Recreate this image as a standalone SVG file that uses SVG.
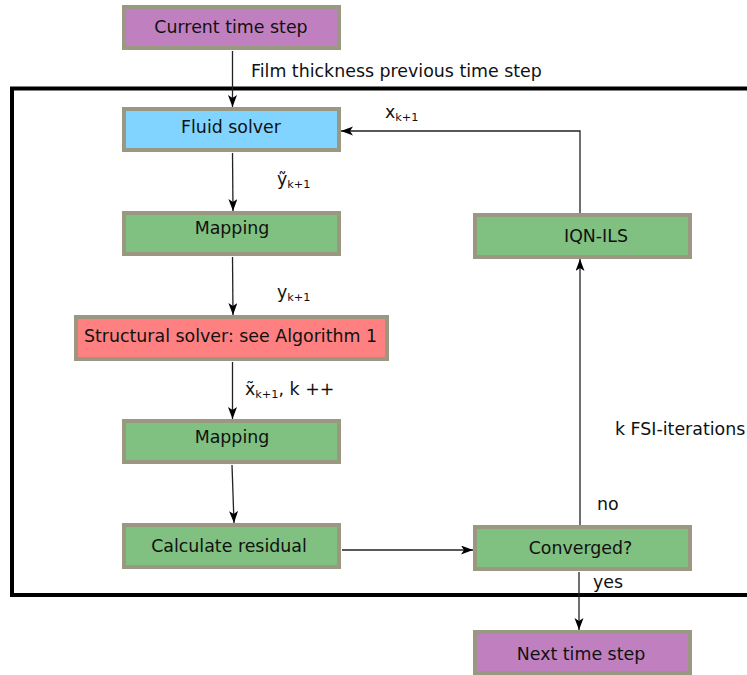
<svg xmlns="http://www.w3.org/2000/svg" width="747" height="675" viewBox="0 0 747 675">
  <style>
    text { font-family: "DejaVu Sans", Verdana, sans-serif; font-size: 17.4px; fill: #111; }
    .lbl { text-anchor: middle; }
    .sub { font-size: 11.3px; }
    .box { stroke: #9a9880; stroke-width: 4; }
    .purple { fill: #c080c0; }
    .blue { fill: #80d4ff; }
    .green { fill: #80c080; }
    .red { fill: #ff8080; }
    .edge { fill: none; stroke: #222; stroke-width: 1.3; }
  </style>
  <defs>
    <marker id="arrow" markerUnits="userSpaceOnUse" markerWidth="13" markerHeight="10" refX="12" refY="4.5" orient="auto">
      <path d="M0,0 L12,4.5 L0,9 L3,4.5 z" fill="#000"/>
    </marker>
  </defs>
  <rect width="747" height="675" fill="#fff"/>

  <!-- loop frame for the FSI iterations -->
  <rect x="12" y="88.5" width="780" height="506.5" fill="none" stroke="#000" stroke-width="4"/>

  <g id="connectors">
    <line class="edge" x1="232.5" y1="51" x2="232.5" y2="107" marker-end="url(#arrow)"/>
    <line class="edge" x1="232.5" y1="153" x2="233" y2="211" marker-end="url(#arrow)"/>
    <line class="edge" x1="232.5" y1="257" x2="233" y2="315" marker-end="url(#arrow)"/>
    <line class="edge" x1="232.5" y1="362" x2="232.5" y2="419" marker-end="url(#arrow)"/>
    <line class="edge" x1="232" y1="465" x2="234" y2="523" marker-end="url(#arrow)"/>
    <line class="edge" x1="342" y1="550" x2="473" y2="550" marker-end="url(#arrow)"/>
    <line class="edge" x1="580" y1="525" x2="580" y2="259" marker-end="url(#arrow)"/>
    <polyline class="edge" points="580,213 580,131 341,131" marker-end="url(#arrow)"/>
    <line class="edge" x1="579" y1="572" x2="579" y2="630" marker-end="url(#arrow)"/>

    <text x="251" y="77">Film thickness previous time step</text>
    <text x="385" y="118">x<tspan class="sub" dy="3">k+1</tspan></text>
    <text x="277" y="185">ỹ<tspan class="sub" dy="3">k+1</tspan></text>
    <text x="277" y="297.5">y<tspan class="sub" dy="3">k+1</tspan></text>
    <text x="245" y="395">x̃<tspan class="sub" dy="3">k+1</tspan><tspan dy="-3">, k ++</tspan></text>
    <text x="615" y="435">k FSI-iterations</text>
    <text x="597" y="510">no</text>
    <text x="593" y="588">yes</text>
  </g>

  <g id="current-time-step">
    <rect class="box purple" x="124" y="7" width="215" height="41"/>
    <text class="lbl" x="231" y="32.5">Current time step</text>
  </g>
  <g id="fluid-solver">
    <rect class="box blue" x="124" y="109" width="215" height="41"/>
    <text class="lbl" x="231" y="133">Fluid solver</text>
  </g>
  <g id="mapping-1">
    <rect class="box green" x="124" y="213" width="215" height="41"/>
    <text class="lbl" x="232" y="234">Mapping</text>
  </g>
  <g id="structural-solver">
    <rect class="box red" x="76" y="317" width="311" height="42"/>
    <text class="lbl" x="230.5" y="342">Structural solver: see Algorithm 1</text>
  </g>
  <g id="mapping-2">
    <rect class="box green" x="124" y="421" width="215" height="41"/>
    <text class="lbl" x="232" y="443">Mapping</text>
  </g>
  <g id="calculate-residual">
    <rect class="box green" x="124" y="525" width="215" height="42"/>
    <text class="lbl" x="229" y="552">Calculate residual</text>
  </g>
  <g id="converged">
    <rect class="box green" x="475" y="527" width="215" height="42"/>
    <text class="lbl" x="580.5" y="553.5">Converged?</text>
  </g>
  <g id="iqn-ils">
    <rect class="box green" x="475" y="215" width="215" height="42"/>
    <text class="lbl" x="596" y="241.5">IQN-ILS</text>
  </g>
  <g id="next-time-step">
    <rect class="box purple" x="475" y="632" width="215" height="41"/>
    <text class="lbl" x="581" y="660">Next time step</text>
  </g>
</svg>
